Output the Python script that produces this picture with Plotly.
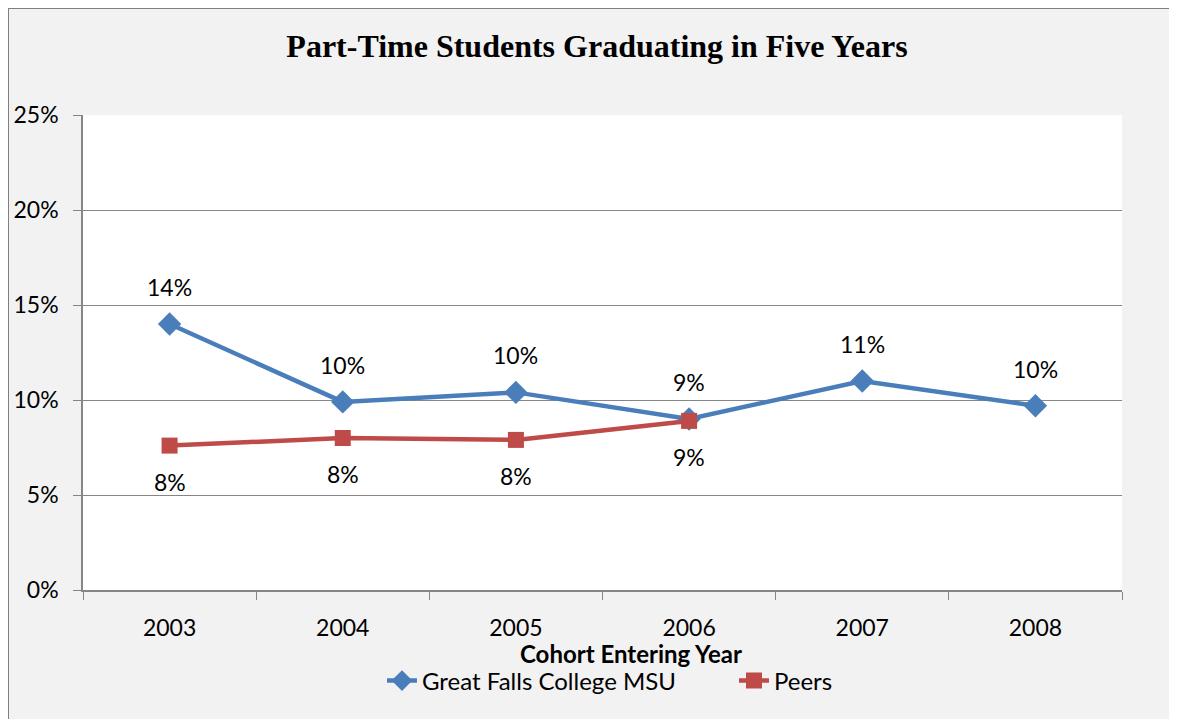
import plotly.graph_objects as go

years = ["2003", "2004", "2005", "2006", "2007", "2008"]
gf_values = [14.0, 9.9, 10.4, 9.0, 11.0, 9.7]
peer_years = ["2003", "2004", "2005", "2006"]
peer_values = [7.6, 8.0, 7.9, 8.9]
y_ticks = [0, 5, 10, 15, 20, 25]

BLUE = "#4A7EBB"
RED = "#BE4B48"
FONT = "Lato, Calibri, sans-serif"
FS = 23

# page body has an 8px margin; figure coordinates are page coordinates minus 8
W, H = 1169, 711
L, R, T, B = 75, 55, 107, 129
PW, PH = W - L - R, H - T - B

fig = go.Figure()
fig.add_trace(go.Scatter(
    x=years, y=gf_values, name="Great Falls College MSU", mode="lines+markers",
    line=dict(color=BLUE, width=4.5),
    marker=dict(symbol="diamond", size=18, color=BLUE),
))
fig.add_trace(go.Scatter(
    x=peer_years, y=peer_values, name="Peers", mode="lines+markers",
    line=dict(color=RED, width=4.5),
    marker=dict(symbol="square", size=16, color=RED),
))

annotations = []
for i, v in enumerate(gf_values):
    annotations.append(dict(x=years.index(years[i]), y=v, xref="x", yref="y",
                            text=f"{round(v):d}%", showarrow=False,
                            yshift=37, font=dict(family=FONT, size=FS, color="black")))
for i, v in enumerate(peer_values):
    annotations.append(dict(x=years.index(peer_years[i]), y=v, xref="x", yref="y",
                            text=f"{round(v):d}%", showarrow=False,
                            yshift=-36, font=dict(family=FONT, size=FS, color="black")))
# x-axis title
annotations.append(dict(text="<b>Cohort Entering Year</b>", showarrow=False,
                        xref="paper", yref="paper",
                        x=(631 - 8 - L) / PW, xanchor="center",
                        y=(PH + T - (653 - 8)) / PH, yanchor="middle",
                        font=dict(family=FONT, size=24, color="black")))

fig.update_layout(
    width=W, height=H,
    paper_bgcolor="#F2F2F2", plot_bgcolor="white",
    margin=dict(l=L, r=R, t=T, b=B, pad=0, autoexpand=False),
    font=dict(family=FONT, size=FS, color="black"),
    title=dict(text="<b>Part-Time Students Graduating in Five Years</b>",
               font=dict(family="Liberation Serif, Times New Roman, serif", size=32, color="black"),
               x=(597 - 8) / W, xanchor="center", xref="container",
               y=1 - 38 / H, yanchor="middle", yref="container"),
    showlegend=True,
    legend=dict(orientation="h", x=(374 - L) / PW, xanchor="left", xref="paper",
                y=1 - 673 / H, yanchor="middle", yref="container",
                font=dict(family=FONT, size=24, color="black"),
                entrywidth=307, entrywidthmode="pixels",
                bgcolor="rgba(0,0,0,0)"),
    annotations=annotations,
    shapes=[dict(type="rect", xref="paper", yref="paper",
                 x0=(0 - L) / PW, x1=(1164 - L) / PW,
                 y0=(PH + T - 730) / PH, y1=(PH + T - 0) / PH,
                 line=dict(color="#7F7F7F", width=2), fillcolor="rgba(0,0,0,0)", layer="below")],
)
fig.update_xaxes(
    type="category", categoryorder="array", categoryarray=years,
    range=[-0.5, 5.5], automargin=False,
    showline=True, linecolor="#868686", linewidth=1.5,
    ticks="outside", tickson="boundaries", ticklen=8, tickcolor="#868686",
    ticklabelstandoff=17,
    showgrid=False,
    tickfont=dict(family=FONT, size=FS, color="black"),
)
fig.update_yaxes(
    range=[0, 25], tickvals=y_ticks, ticktext=[f"{t}%" for t in y_ticks],
    automargin=False,
    showline=True, linecolor="#868686", linewidth=1.5,
    ticks="outside", ticklen=8, tickcolor="#868686",
    ticklabelstandoff=10,
    showgrid=True, gridcolor="#868686", gridwidth=1,
    zeroline=False,
    tickfont=dict(family=FONT, size=FS, color="black"),
)

fig.write_html("out.html")
